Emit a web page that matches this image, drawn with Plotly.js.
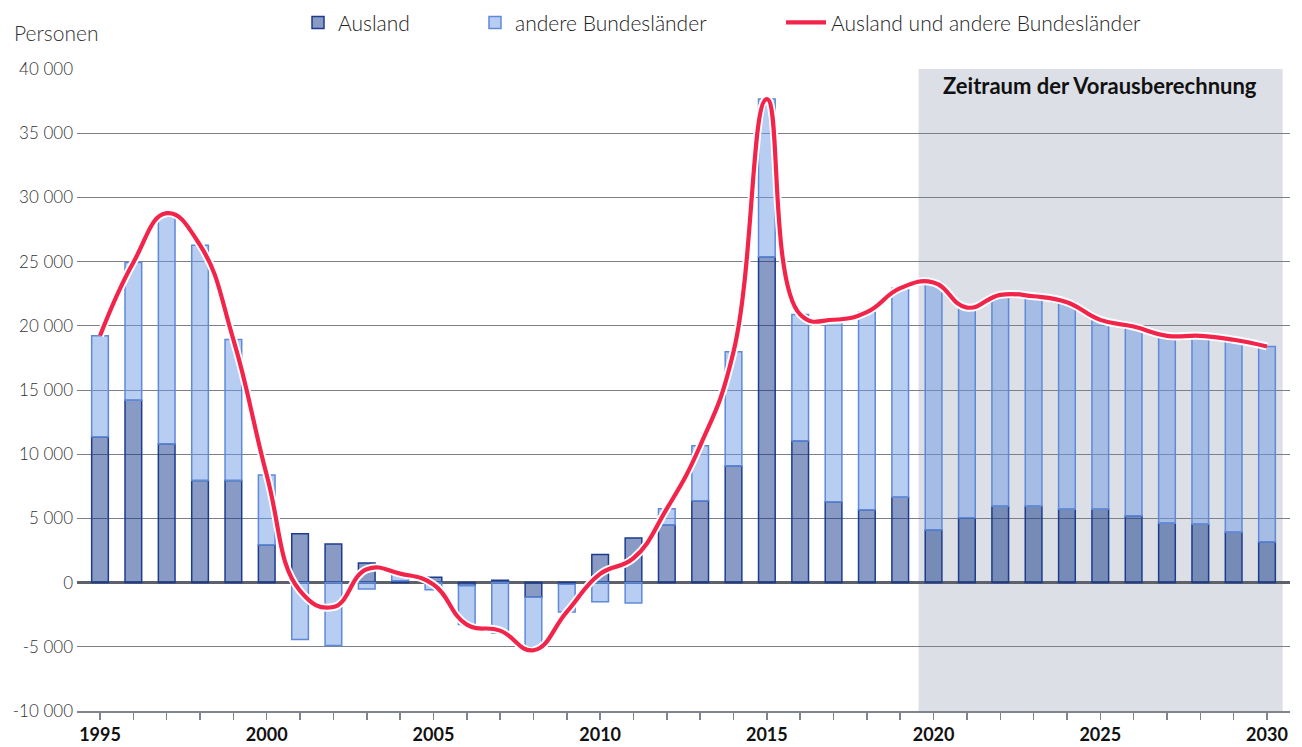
<!DOCTYPE html>
<html>
<head>
<meta charset="utf-8">
<script src="https://cdn.plot.ly/plotly-3.0.1.min.js"></script>
<style>
html,body{margin:0;padding:0;background:#fff;}
#chart{width:1302px;height:747px;}
</style>
</head>
<body>
<div id="chart"></div>
<script>
// ---- Data ----
const years = [1995,1996,1997,1998,1999,2000,2001,2002,2003,2004,2005,2006,2007,2008,2009,2010,2011,2012,2013,2014,2015,2016,2017,2018,2019,2020,2021,2022,2023,2024,2025,2026,2027,2028,2029,2030];
const ausland = [11350,14200,10800,7950,7950,2950,3800,3000,1530,150,410,-230,180,-1150,-130,2180,3480,4490,6380,9080,25350,11020,6290,5670,6650,4100,5060,5940,5940,5710,5710,5190,4620,4540,3920,3170];
const andereBundeslaender = [7870,10730,17970,18330,10980,5430,-4440,-4900,-490,550,-550,-3040,-3920,-4120,-2150,-1500,-1580,1270,4280,8900,12310,9860,14180,15400,16280,19270,16360,16470,16360,16130,14750,14750,14600,14680,14990,15220];
const gesamt = years.map((y,i) => ausland[i] + andereBundeslaender[i]);

const xTickLabels = years.map(y => (y % 5 === 0 ? String(y) : ''));
const yTickVals = [-10000,-5000,0,5000,10000,15000,20000,25000,30000,35000,40000];
const yTickText = ['-10 000','-5 000','0','5 000','10 000','15 000','20 000','25 000','30 000','35 000','40 000'];

const seriesNames = ['Ausland','andere Bundesländer','Ausland und andere Bundesländer'];
const forecastStart = 2019.55, forecastEnd = 2030.47;
const forecastLabel = 'Zeitraum der Vorausberechnung';
const yAxisLabel = 'Personen';

const FONT = 'Lato, "Source Sans Pro", "Open Sans", sans-serif';

const traces = [
  {
    type:'bar', x:years, y:ausland, name:seriesNames[0], width:0.5,
    marker:{color:'rgba(15,50,135,0.49)', line:{color:'#1c3c8e', width:1.5}},
    legend:'legend', hoverinfo:'x+y'
  },
  {
    type:'bar', x:years, y:andereBundeslaender, name:seriesNames[1], width:0.5,
    marker:{color:'rgba(108,152,228,0.49)', line:{color:'#5f8ad8', width:1.5}},
    legend:'legend2', hoverinfo:'x+y'
  },
  {
    type:'scatter', mode:'lines', x:years, y:gesamt, showlegend:false,
    line:{color:'#ffffff', width:8, shape:'spline', smoothing:1.3}, hoverinfo:'skip'
  },
  {
    type:'scatter', mode:'lines', x:years, y:gesamt, name:seriesNames[2],
    line:{color:'#f2244a', width:4.2, shape:'spline', smoothing:1.3},
    legend:'legend3', hoverinfo:'x+y'
  }
];

const legendBase = {
  orientation:'h', yanchor:'middle', y:1.072, xanchor:'left',
  font:{family:FONT, size:21, weight:300, color:'#222'},
  bgcolor:'rgba(0,0,0,0)', traceorder:'normal'
};

const layout = {
  width:1302, height:747,
  margin:{l:77, r:12, t:69, b:36, pad:0, autoexpand:false},
  paper_bgcolor:'#ffffff', plot_bgcolor:'rgba(0,0,0,0)',
  barmode:'relative', bargap:0.5,
  font:{family:FONT, size:17, color:'#333'},
  xaxis:{
    range:[1994.31, 2030.69], tickmode:'array', tickvals:years, ticktext:xTickLabels,
    ticks:'outside', ticklen:7, tickwidth:1.5, tickcolor:'#80848e',
    showline:true, linecolor:'#80848e', linewidth:1.5,
    showgrid:false, zeroline:false, automargin:false,
    tickfont:{family:FONT, size:18, weight:700, color:'#111'}
  },
  yaxis:{
    range:[-10000, 40000], tickmode:'array', tickvals:yTickVals, ticktext:yTickText,
    showgrid:true, gridcolor:'#7b808c', gridwidth:1,
    zeroline:true, zerolinecolor:'#5d616c', zerolinewidth:2.5,
    ticks:'', showline:false, automargin:false, ticklabelstandoff:3,
    tickfont:{family:FONT, size:17, weight:300, color:'#333'}
  },
  shapes:[{
    type:'rect', xref:'x', yref:'y', x0:forecastStart, x1:forecastEnd, y0:-10000, y1:40000,
    fillcolor:'#dcdfe6', line:{width:0}, layer:'below'
  }],
  annotations:[
    {xref:'x', yref:'y', x:2025.0, y:38680, text:'<b>'+forecastLabel+'</b>', showarrow:false,
     xanchor:'center', yanchor:'middle', font:{family:FONT, size:22, color:'#111'}},
    {xref:'paper', yref:'paper', x:-0.0536, y:1.0576, text:yAxisLabel, showarrow:false,
     xanchor:'left', yanchor:'middle', font:{family:FONT, size:21, weight:300, color:'#333'}}
  ],
  legend: Object.assign({}, legendBase, {x:0.1822}),
  legend2: Object.assign({}, legendBase, {x:0.3281}),
  legend3: Object.assign({}, legendBase, {x:0.5804, itemwidth:40}),
  showlegend:true
};

Plotly.newPlot('chart', traces, layout, {displayModeBar:false, staticPlot:true});
</script>
</body>
</html>
